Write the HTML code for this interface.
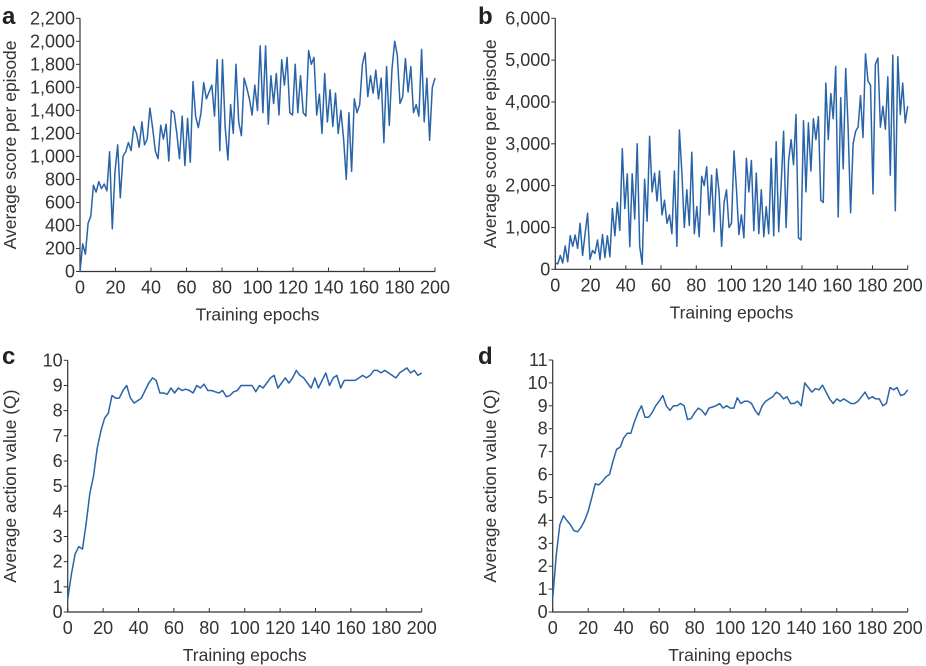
<!DOCTYPE html>
<html><head><meta charset="utf-8">
<style>
html,body{margin:0;padding:0;background:#fff;}
svg{display:block;font-family:"Liberation Sans",sans-serif;}
</style></head>
<body>
<svg id="fig" width="926" height="666" viewBox="0 0 926 666"></svg>
<script>
const aScores=[0,240,150,420,480,750,690,780,720,760,700,1040,370,870,1100,640,1000,1040,1120,1050,1260,1200,1080,1300,1100,1150,1420,1250,1050,980,1270,1150,1280,960,1400,1380,1200,980,1350,920,1330,950,1650,1350,1250,1380,1640,1500,1560,1620,1350,1840,1050,1840,1250,970,1450,1200,1800,1300,1180,1680,1600,1500,1360,1620,1400,1960,1380,1960,1280,1700,1460,1720,1360,1840,1620,1860,1380,1360,1800,1380,1700,1380,1350,1920,1800,1860,1360,1540,1200,1720,1300,1580,1260,1550,1200,1400,1150,800,1380,870,1500,1380,1450,1800,1900,1520,1700,1550,1750,1500,1680,1120,1780,1270,1760,2000,1880,1460,1520,1850,1560,1780,1380,1450,1350,1930,1300,1680,1140,1600,1680];
const bScores=[150,130,330,150,560,180,800,550,820,500,1100,330,850,1340,240,450,380,700,230,830,280,800,300,1450,800,1600,930,2880,1450,2280,540,2280,1200,3000,550,120,2150,1150,3180,1850,2300,1630,2350,1300,1650,1100,1300,850,2350,550,3330,2300,1000,1900,1050,2800,850,1500,780,2220,2000,2450,1300,2250,900,2400,1850,550,1600,1900,1000,1100,2830,1900,830,1300,750,2650,1850,2600,920,2300,850,1900,780,1500,850,2650,800,3050,900,2000,3300,1000,2600,3100,2500,3700,750,700,3550,1850,3500,2350,3600,3100,3650,1650,1600,4450,3100,4200,3600,4850,1250,4100,2400,4800,3400,1350,3000,3300,3400,4150,3150,5150,4500,4400,1800,4900,5050,3400,3900,3350,4600,2250,5120,1400,5080,3700,4450,3500,3900];
const cValues=[0.5,1.5,2.3,2.6,2.5,3.5,4.7,5.4,6.5,7.2,7.7,7.9,8.6,8.5,8.5,8.8,9.0,8.5,8.3,8.4,8.5,8.8,9.1,9.3,9.2,8.7,8.7,8.65,8.9,8.7,8.9,8.8,8.85,8.8,8.7,9.0,8.9,9.05,8.8,8.8,8.75,8.7,8.8,8.55,8.6,8.75,8.8,9.0,9.0,9.0,9.0,8.75,9.0,8.9,9.1,9.3,9.4,8.9,9.1,9.3,9.1,9.3,9.6,9.4,9.3,9.1,8.9,9.3,8.9,9.2,9.5,9.0,9.3,9.4,8.9,9.2,9.2,9.2,9.2,9.3,9.4,9.3,9.4,9.6,9.6,9.5,9.6,9.5,9.4,9.3,9.5,9.6,9.7,9.5,9.6,9.4,9.5];
const dValues=[0.6,2.5,3.8,4.2,4.0,3.8,3.55,3.5,3.7,4.0,4.4,5.0,5.6,5.55,5.7,5.9,6.0,6.6,7.1,7.2,7.6,7.8,7.8,8.3,8.7,9.0,8.5,8.5,8.7,9.0,9.2,9.45,9.0,8.8,9.0,9.0,9.1,9.0,8.4,8.45,8.7,8.9,8.8,8.6,8.9,8.95,9.0,9.1,8.9,9.0,8.9,8.9,9.35,9.1,9.2,9.2,9.1,8.8,8.6,9.0,9.2,9.3,9.4,9.6,9.5,9.3,9.4,9.1,9.1,9.2,9.0,10.0,9.8,9.6,9.75,9.7,9.9,9.6,9.3,9.1,9.3,9.2,9.3,9.2,9.1,9.1,9.2,9.4,9.6,9.3,9.4,9.3,9.3,9.0,9.1,9.8,9.7,9.8,9.45,9.5,9.7];
const xTicks=[0,20,40,60,80,100,120,140,160,180,200];
const aTicks=[0,200,400,600,800,1000,1200,1400,1600,1800,2000,2200];
const bTicks=[0,1000,2000,3000,4000,5000,6000];
const cTicks=[0,1,2,3,4,5,6,7,8,9,10];
const dTicks=[0,1,2,3,4,5,6,7,8,9,10,11];

const NS="http://www.w3.org/2000/svg";
const svg=document.getElementById('fig');
function mk(tag,attrs,parent){const e=document.createElementNS(NS,tag);for(const k in attrs)e.setAttribute(k,attrs[k]);(parent||svg).appendChild(e);return e;}
const fmt=v=>v.toLocaleString('en-US');

function panel(cfg){
  const g=mk('g',{});
  
  
  const sx=v=>cfg.x0+(v/200)*(cfg.x1-cfg.x0);
  const sy=v=>cfg.y0-(v/cfg.ymax)*(cfg.y0-cfg.y1);
  const lab=mk('text',{x:cfg.lx,y:cfg.ly,'font-size':24,'font-weight':'bold',fill:'#222'},g);
  lab.textContent=cfg.letter;
  
  
  const ax=mk('path',{d:`M${cfg.x0} ${cfg.y1}V${cfg.y0}H${cfg.x1}`,stroke:'#333','stroke-width':1.2,fill:'none'},g);
  
  
  cfg.yt.forEach(v=>{
    const y=sy(v);
    mk('line',{x1:cfg.x0-4,x2:cfg.x0,y1:y,y2:y,stroke:'#333','stroke-width':1},g);
    const t=mk('text',{x:cfg.x0-5,y:y+6,'font-size':18,'text-anchor':'end',fill:'#333'},g);
    t.textContent=fmt(v);
    
    
  });
  xTicks.forEach(v=>{
    const x=sx(v);
    mk('line',{x1:x,x2:x,y1:cfg.y0,y2:cfg.y0-4,stroke:'#333','stroke-width':1},g);
    const t=mk('text',{x:x,y:cfg.y0+22,'font-size':18,'text-anchor':'middle',fill:'#333'},g);
    t.textContent=v;
    
    
  });
  const xt=mk('text',{x:(cfg.x0+cfg.x1)/2,y:cfg.y0+49,'font-size':17.5,'text-anchor':'middle',fill:'#333'},g);
  xt.textContent='Training epochs';
  
  
  const yc=(cfg.y0+cfg.y1)/2;
  const yt=mk('text',{x:cfg.tx,y:yc,'font-size':17.5,'text-anchor':'middle',fill:'#333',transform:`rotate(-90 ${cfg.tx} ${yc})`},g);
  yt.textContent=cfg.ytitle;
  
  
  const n=cfg.data.length;
  const d=cfg.data.map((v,i)=>(i?'L':'M')+sx(i*200/(n-1)).toFixed(1)+' '+sy(v).toFixed(1)).join('');
  const p=mk('path',{d:d,stroke:'#2a64a8','stroke-width':1.5,fill:'none','stroke-linejoin':'round'},g);
  
  
}
panel({letter:'a',lx:2,ly:24,x0:80,x1:435,y0:271.5,y1:18.3,ymax:2200,yt:aTicks,data:aScores,ytitle:'Average score per episode',tx:16});
panel({letter:'b',lx:478,ly:24,x0:555.3,x1:907.7,y0:269.3,y1:18.3,ymax:6000,yt:bTicks,data:bScores,ytitle:'Average score per episode',tx:496});
panel({letter:'c',lx:2,ly:364,x0:67.7,x1:421.7,y0:612,y1:360.3,ymax:10,yt:cTicks,data:cValues,ytitle:'Average action value (Q)',tx:16});
panel({letter:'d',lx:478,ly:364,x0:552.7,x1:907.7,y0:612,y1:360,ymax:11,yt:dTicks,data:dValues,ytitle:'Average action value (Q)',tx:496});
</script>
</body></html>
